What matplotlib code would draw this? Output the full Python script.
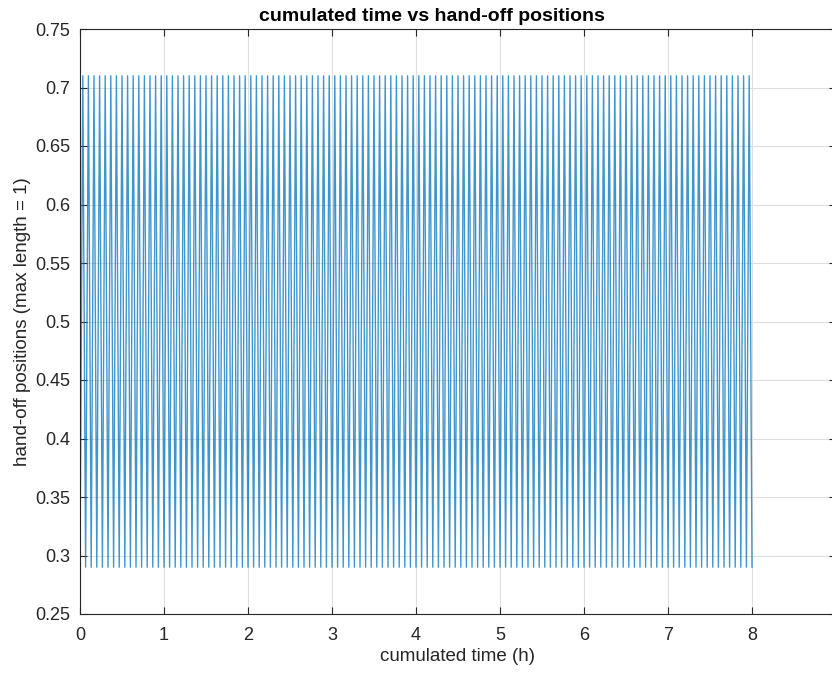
import numpy as np
import matplotlib.pyplot as plt

# hand-off pattern: position swings between two ends
low_pos = 0.29
high_pos = 0.71
handoff_interval_h = 1 / 30      # ~2 min between hand-offs
n_handoffs = 240                 # 8 h of hand-offs
x_ticks = list(range(0, 10))
y_ticks = [0.25, 0.3, 0.35, 0.4, 0.45, 0.5, 0.55, 0.6, 0.65, 0.7, 0.75]

# build the alternating series from the read values
ends = [low_pos, high_pos]
positions = [ends[i % 2] for i in range(n_handoffs + 1)]
times = [i * handoff_interval_h for i in range(n_handoffs + 1)]

plt.rcParams['font.family'] = ['Liberation Sans', 'DejaVu Sans']

fig = plt.figure(figsize=(8.32, 6.73), dpi=100)
ax = fig.add_axes([80 / 832, 59 / 673, 756 / 832, 585 / 673])

ax.plot(times, positions, color='#0072BD', lw=1.0, alpha=0.75)

ax.set_xlim(0, 9)
ax.set_ylim(0.25, 0.75)
ax.set_xticks(x_ticks)
ax.set_xticklabels([str(t) for t in x_ticks])
ax.set_yticks(y_ticks)
ax.set_yticklabels([f"{t:g}" for t in y_ticks])

ax.grid(True, color='#dfdfdf', lw=0.8)
ax.set_axisbelow(True)
ax.tick_params(direction='in', top=True, right=True, labelsize=13, colors='#262626', length=5)
ax.tick_params(axis='x', pad=9)
ax.tick_params(axis='y', pad=7)
for s in ax.spines.values():
    s.set_color('#262626')
    s.set_linewidth(0.8)

ax.set_xlabel('cumulated time (h)', fontsize=13.5, color='#262626', labelpad=3)
ax.set_ylabel('hand-off positions (max length = 1)', fontsize=13.5, color='#262626', labelpad=3)
ax.set_title('cumulated time vs hand-off positions', fontsize=14, fontweight='bold', x=0.466, pad=6)

fig.savefig('out.png', dpi=100)
